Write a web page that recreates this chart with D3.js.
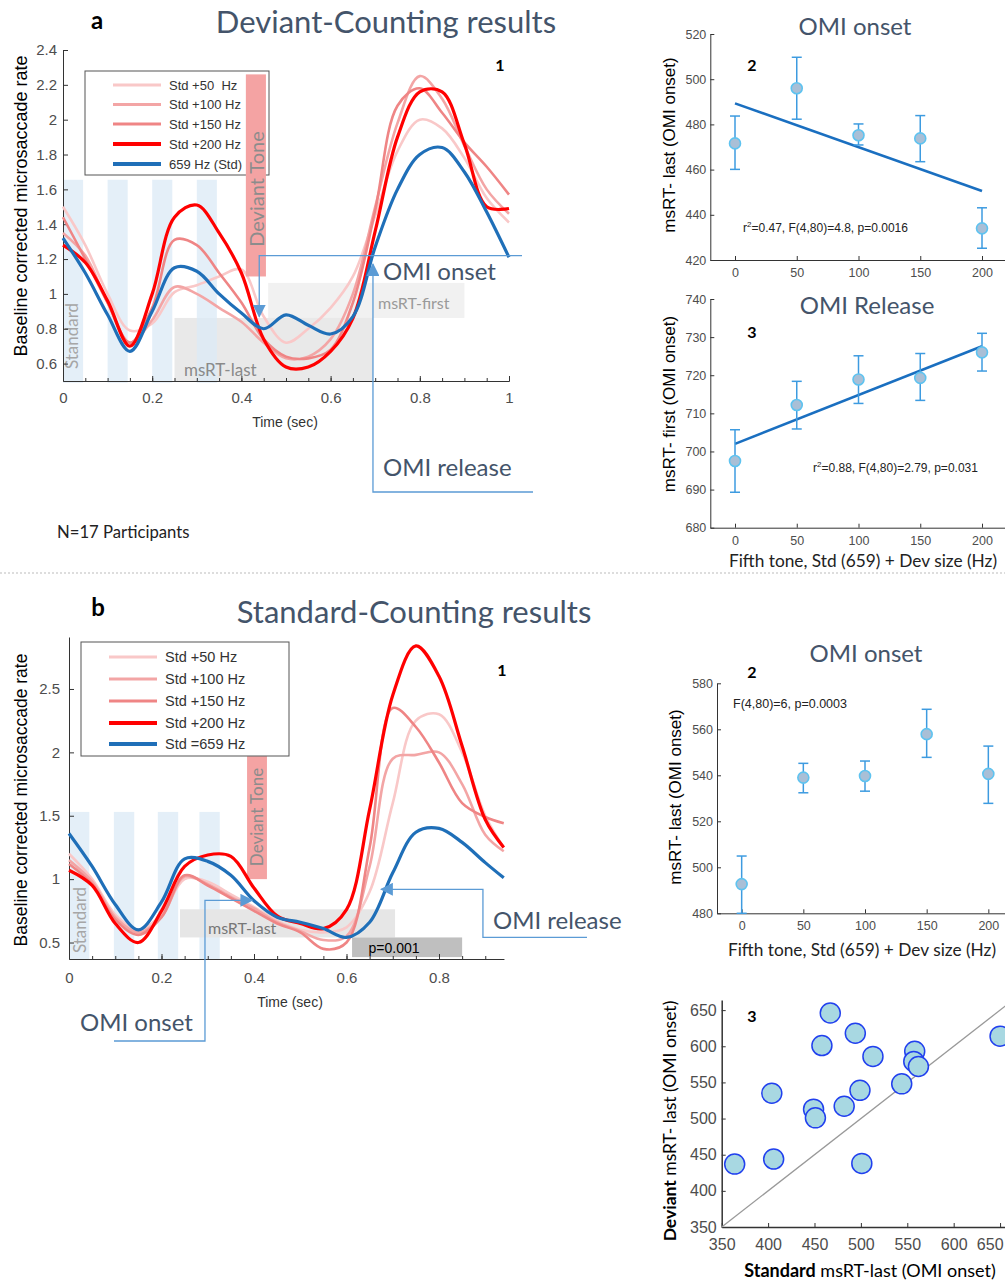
<!DOCTYPE html>
<html>
<head>
<meta charset="utf-8">
<script src="https://cdn.jsdelivr.net/npm/d3@7"></script>
<style>
body { margin: 0; background: #fff; }
text { white-space: pre; }
</style>
</head>
<body>
<script>
// ---- panel a1: deviant counting, microsaccade rate vs time
var timeA = [0, 0.05, 0.1, 0.15, 0.2, 0.25, 0.3, 0.35, 0.4, 0.45, 0.5, 0.55, 0.6, 0.65, 0.7, 0.75, 0.8, 0.85, 0.9, 0.95, 1];
var devA50  = [1.50, 1.28, 1.00, 0.79, 0.83, 1.01, 1.05, 1.10, 1.14, 0.87, 0.72, 0.80, 0.92, 1.10, 1.45, 1.82, 2.00, 1.95, 1.78, 1.55, 1.41];
var devA100 = [1.35, 1.22, 0.95, 0.72, 0.85, 1.04, 1.00, 0.92, 0.84, 0.72, 0.63, 0.64, 0.74, 1.00, 1.50, 1.98, 2.25, 2.12, 1.85, 1.60, 1.46];
var devA150 = [1.44, 1.20, 0.95, 0.72, 0.92, 1.31, 1.28, 1.12, 0.95, 0.74, 0.64, 0.63, 0.68, 0.95, 1.48, 2.08, 2.18, 2.04, 1.87, 1.73, 1.57];
var devA200 = [1.28, 1.18, 0.96, 0.70, 1.00, 1.44, 1.51, 1.35, 1.12, 0.74, 0.58, 0.58, 0.67, 0.86, 1.36, 1.90, 2.16, 2.16, 1.86, 1.50, 1.49];
var devAStd = [1.32, 1.12, 0.88, 0.67, 0.90, 1.15, 1.13, 1.00, 0.89, 0.80, 0.88, 0.82, 0.77, 0.87, 1.27, 1.60, 1.80, 1.84, 1.70, 1.47, 1.21];
var legendA = ["Std +50  Hz", "Std +100 Hz", "Std +150 Hz", "Std +200 Hz", "659 Hz (Std)"];

// ---- panel b1: standard counting
var timeB = [0, 0.05, 0.1, 0.15, 0.2, 0.25, 0.3, 0.35, 0.4, 0.45, 0.5, 0.55, 0.6, 0.65, 0.7, 0.75, 0.8, 0.85, 0.9, 0.94];
var stdB50  = [1.20, 1.00, 0.72, 0.60, 0.72, 1.00, 0.98, 0.88, 0.78, 0.67, 0.60, 0.58, 0.62, 0.90, 1.60, 2.25, 2.30, 2.00, 1.50, 1.25];
var stdB100 = [1.15, 0.98, 0.70, 0.58, 0.70, 1.02, 0.96, 0.86, 0.77, 0.66, 0.59, 0.52, 0.55, 1.10, 1.95, 1.98, 2.00, 1.75, 1.35, 1.22];
var stdB150 = [1.12, 0.96, 0.68, 0.56, 0.70, 1.03, 0.95, 0.85, 0.75, 0.65, 0.58, 0.45, 0.50, 1.25, 2.35, 2.20, 1.92, 1.60, 1.49, 1.44];
var stdB200 = [1.07, 0.95, 0.65, 0.50, 0.75, 1.10, 1.19, 1.18, 0.93, 0.71, 0.65, 0.61, 0.76, 1.55, 2.45, 2.84, 2.60, 2.05, 1.47, 1.25];
var stdBStd = [1.36, 1.10, 0.80, 0.60, 0.82, 1.16, 1.14, 1.03, 0.83, 0.70, 0.66, 0.61, 0.54, 0.66, 1.05, 1.37, 1.40, 1.29, 1.13, 1.01];
var legendB = ["Std +50 Hz", "Std +100 Hz", "Std +150 Hz", "Std +200 Hz", "Std =659 Hz"];

// tone onsets (sec) shown as shaded bars
var toneA = [0, 0.1, 0.2, 0.3];
var toneB = [0, 0.097, 0.192, 0.282];

// ---- error bar panels (deviant size in Hz)
var devSize = [0, 50, 100, 150, 200];
var fitX = [0, 200];
var onsetA   = [471.6, 496.0, 475.2, 473.8, 434.0];
var onsetALo = [460.1, 482.3, 470.9, 463.5, 425.2];
var onsetAHi = [483.7, 509.7, 480.2, 483.9, 443.1];
var fitOnsetA = [489.3, 450.5];
var releaseA   = [697.5, 712.2, 718.9, 719.3, 726.0];
var releaseALo = [689.3, 705.9, 712.6, 713.4, 721.1];
var releaseAHi = [705.7, 718.4, 725.1, 725.7, 731.0];
var fitReleaseA = [702.0, 727.6];
var onsetB   = [492.7, 539.0, 539.7, 557.9, 540.6];
var onsetBLo = [480.0, 532.4, 533.1, 547.8, 527.8];
var onsetBHi = [504.9, 545.2, 546.2, 568.7, 552.7];

// ---- scatter b3: per participant msRT-last (ms)
var stdLast = [364, 406, 404, 449, 451, 458, 467, 494, 482, 499, 501, 513, 544, 558, 557, 562, 650];
var devLast = [437, 444, 535, 513, 501, 601, 646, 618, 517, 539, 438, 586, 548, 593, 579, 572, 614];

var colors = ["#f9c8c8", "#f3a5a5", "#ef8585", "#ff0000", "#1f6fb8"];
var widths = [2.6, 2.6, 2.6, 3.2, 3.2];
var anno = "#5b9bd5";
var titleCol = "#44546a";
var cal = "Lato, 'Open Sans', sans-serif";
var arial = "'Liberation Sans', Arial, sans-serif";

var svg = d3.select("body").append("svg").attr("width", 1005).attr("height", 1282);

svg.append("defs").append("marker")
  .attr("id", "arr").attr("viewBox", "0 0 10 10").attr("refX", 9).attr("refY", 5)
  .attr("markerWidth", 13).attr("markerHeight", 13).attr("markerUnits", "userSpaceOnUse")
  .attr("orient", "auto")
  .append("path").attr("d", "M0,0L10,5L0,10Z").attr("fill", anno);

function text(x, y, s, size, font, opts) {
  opts = opts || {};
  var t = svg.append("text").attr("x", x).attr("y", y).text(s)
    .attr("font-size", size).attr("font-family", font)
    .attr("fill", opts.fill || "#000")
    .attr("text-anchor", opts.anchor || "start")
    .attr("font-weight", opts.weight || "normal");
  if (opts.rotate) t.attr("transform", "rotate(-90," + x + "," + y + ")");
  return t;
}

function styleAxis(g, size) {
  g.attr("font-family", arial).attr("font-size", size);
  g.select(".domain").attr("stroke", "#333").attr("stroke-width", 1);
  g.selectAll(".tick line").attr("stroke", "#333");
  g.selectAll(".tick text").attr("fill", "#4d4d4d");
}

function timeAxes(x, y, xMajor, xMinor, yMajor, fs, padX, padY) {
  var y0 = y.range()[0], x0 = x.range()[0];
  var gm = svg.append("g").attr("transform", "translate(0," + y0 + ")")
    .call(d3.axisBottom(x).tickValues(xMinor).tickSizeInner(-3).tickSizeOuter(0).tickFormat(""));
  styleAxis(gm, fs);
  var gx = svg.append("g").attr("transform", "translate(0," + y0 + ")")
    .call(d3.axisBottom(x).tickValues(xMajor).tickSizeInner(-5).tickSizeOuter(0)
      .tickPadding(padX).tickFormat(d3.format("~g")));
  styleAxis(gx, fs);
  var gy = svg.append("g").attr("transform", "translate(" + x0 + ",0)")
    .call(d3.axisLeft(y).tickValues(yMajor).tickSizeInner(-5).tickSizeOuter(0)
      .tickPadding(padY).tickFormat(d3.format("~g")));
  styleAxis(gy, fs);
}

function curves(x, y, times, series) {
  var line = d3.line()
    .x(function(d, i) { return x(times[i]); })
    .y(function(d) { return y(d); })
    .curve(d3.curveCatmullRom.alpha(0.5));
  svg.append("g").selectAll("path").data(series).enter().append("path")
    .attr("d", line)
    .attr("fill", "none")
    .attr("stroke", function(d, i) { return colors[i]; })
    .attr("stroke-width", function(d, i) { return widths[i]; });
}

function legend(x0, y0, w, h, rows, labels, size) {
  svg.append("rect").attr("x", x0).attr("y", y0).attr("width", w).attr("height", h)
    .attr("fill", "#fff").attr("stroke", "#555").attr("stroke-width", 1);
  labels.forEach(function(lab, i) {
    svg.append("line").attr("x1", x0 + 28).attr("x2", x0 + 28 + 48)
      .attr("y1", rows[i]).attr("y2", rows[i])
      .attr("stroke", colors[i]).attr("stroke-width", widths[i] + 0.6);
    text(x0 + 84, rows[i] + size * 0.36, lab, size, arial, {fill: "#333"});
  });
}

// =================== a1 ===================
var xA = d3.scaleLinear().domain([0, 1]).range([63, 509]);
var yA = d3.scaleLinear().domain([0.5, 2.4]).range([381, 50]);

svg.append("rect").attr("x", xA(0.46)).attr("width", xA(0.9) - xA(0.46))
  .attr("y", yA(1.063)).attr("height", yA(0.862) - yA(1.063)).attr("fill", "#f1f1f1");
svg.append("rect").attr("x", xA(0.25)).attr("width", xA(0.695) - xA(0.25))
  .attr("y", yA(0.862)).attr("height", yA(0.5) - yA(0.862)).attr("fill", "#e9e9e9");
svg.append("g").selectAll("rect").data(toneA).enter().append("rect")
  .attr("x", function(d) { return xA(d); })
  .attr("width", xA(0.045) - xA(0))
  .attr("y", yA(1.655)).attr("height", yA(0.49) - yA(1.655))
  .attr("fill", "#dbe9f6").attr("opacity", 0.75);

text(78, 336, "Standard", 17, cal, {fill: "#a6a6a6", anchor: "middle", rotate: true});
text(184, 376, "msRT-last", 17, cal, {fill: "#8a8a8a"});
text(378, 309, "msRT-first", 16, cal, {fill: "#9a9a9a"});

timeAxes(xA, yA, [0, 0.2, 0.4, 0.6, 0.8, 1], d3.range(0, 1.0001, 0.05),
  [0.6, 0.8, 1, 1.2, 1.4, 1.6, 1.8, 2, 2.2, 2.4], 15, 11, 6);

curves(xA, yA, timeA, [devA50, devA100, devA150, devA200, devAStd]);

legend(85, 71, 184, 104, [85, 104.5, 124, 144, 164], legendA, 13);

svg.append("rect").attr("x", xA(0.41)).attr("width", xA(0.455) - xA(0.41))
  .attr("y", yA(2.26)).attr("height", yA(1.1) - yA(2.26)).attr("fill", "#f4a3a3");
text(264, 189, "Deviant Tone", 20, cal, {fill: "#8c8c8c", anchor: "middle", rotate: true});

// OMI onset / release arrows
svg.append("path")
  .attr("d", "M" + 522 + "," + yA(1.22) + "H" + xA(0.44) + "V" + yA(0.87))
  .attr("fill", "none").attr("stroke", anno).attr("stroke-width", 1.3).attr("marker-end", "url(#arr)");
svg.append("path")
  .attr("d", "M" + 533 + "," + 492 + "H" + xA(0.695) + "V" + yA(1.17))
  .attr("fill", "none").attr("stroke", anno).attr("stroke-width", 1.3).attr("marker-end", "url(#arr)");
text(383, 280, "OMI onset", 24, cal, {fill: titleCol});
text(383, 476, "OMI release", 24, cal, {fill: titleCol});

text(285, 427, "Time (sec)", 14, arial, {fill: "#333", anchor: "middle"});
text(27, 206, "Baseline corrected microsaccade rate", 18, arial, {anchor: "middle", rotate: true});
text(500, 71, "1", 16, cal, {weight: "bold", anchor: "middle"});
text(97, 29, "a", 24, cal, {weight: "bold", anchor: "middle"});
text(386, 33, "Deviant-Counting results", 31, cal, {fill: titleCol, anchor: "middle"});
text(57, 538, "N=17 Participants", 16.7, cal, {fill: "#222"});

svg.append("line").attr("x1", 0).attr("x2", 1005).attr("y1", 573).attr("y2", 573)
  .attr("stroke", "#bbb").attr("stroke-dasharray", "2,2");

// =================== b1 ===================
var xB = d3.scaleLinear().domain([0, 0.94]).range([69, 503.75]);
var yB = d3.scaleLinear().domain([0.37, 2.91]).range([959, 637]);

svg.append("g").selectAll("rect").data(toneB).enter().append("rect")
  .attr("x", function(d) { return xB(d); })
  .attr("width", xB(0.044) - xB(0))
  .attr("y", yB(1.53)).attr("height", yB(0.37) - yB(1.53))
  .attr("fill", "#dbe9f6").attr("opacity", 0.75);
svg.append("rect").attr("x", xB(0.385)).attr("width", xB(0.428) - xB(0.385))
  .attr("y", yB(1.97)).attr("height", yB(1.0) - yB(1.97)).attr("fill", "#f4a3a3");
text(263, 817, "Deviant Tone", 17, cal, {fill: "#8c8c8c", anchor: "middle", rotate: true});
svg.append("rect").attr("x", xB(0.24)).attr("width", xB(0.705) - xB(0.24))
  .attr("y", yB(0.762)).attr("height", yB(0.54) - yB(0.762)).attr("fill", "#e6e6e6");
svg.append("rect").attr("x", xB(0.612)).attr("width", xB(0.85) - xB(0.612))
  .attr("y", yB(0.54)).attr("height", yB(0.385) - yB(0.54)).attr("fill", "#bfbfbf");
text(86, 920, "Standard", 17, cal, {fill: "#a6a6a6", anchor: "middle", rotate: true});
text(208, 934, "msRT-last", 16, cal, {fill: "#777"});
text(394, 953, "p=0.001", 14, arial, {anchor: "middle"});

timeAxes(xB, yB, [0, 0.2, 0.4, 0.6, 0.8], d3.range(0, 0.9401, 0.05),
  [0.5, 1, 1.5, 2, 2.5], 15, 13, 9);

curves(xB, yB, timeB, [stdB50, stdB100, stdB150, stdB200, stdBStd]);

legend(81, 642, 208, 114, [657, 679, 701, 723, 744], legendB, 14.5);

svg.append("path")
  .attr("d", "M114,1041H" + xB(0.294) + "V" + yB(0.833) + "H" + xB(0.396))
  .attr("fill", "none").attr("stroke", anno).attr("stroke-width", 1.3).attr("marker-end", "url(#arr)");
svg.append("path")
  .attr("d", "M587," + yB(0.54) + "H" + xB(0.895) + "V" + yB(0.92) + "H" + xB(0.675))
  .attr("fill", "none").attr("stroke", anno).attr("stroke-width", 1.3).attr("marker-end", "url(#arr)");
text(80, 1031, "OMI onset", 24, cal, {fill: titleCol});
text(493, 929, "OMI release", 24, cal, {fill: titleCol});

text(290, 1007, "Time (sec)", 14, arial, {fill: "#333", anchor: "middle"});
text(27, 800, "Baseline corrected microsaccade rate", 17.5, arial, {anchor: "middle", rotate: true});
text(502, 676, "1", 16, cal, {weight: "bold", anchor: "middle"});
text(98, 616, "b", 24, cal, {weight: "bold", anchor: "middle"});
text(414, 623, "Standard-Counting results", 31, cal, {fill: titleCol, anchor: "middle"});

// =================== error bar panels ===================
function errPanel(o) {
  var x = d3.scaleLinear().domain([-20, 220]).range(o.xRange);
  var y = d3.scaleLinear().domain(o.yDomain).range(o.yRange);
  var gx = svg.append("g").attr("transform", "translate(0," + o.yRange[0] + ")")
    .call(d3.axisBottom(x).tickValues(devSize).tickSizeInner(-4).tickSizeOuter(0).tickPadding(8));
  styleAxis(gx, 12.5);
  var gy = svg.append("g").attr("transform", "translate(" + o.xRange[0] + ",0)")
    .call(d3.axisLeft(y).ticks(6).tickSizeInner(-4).tickSizeOuter(0).tickPadding(4));
  styleAxis(gy, 12.5);

  if (o.fit) {
    svg.append("line").attr("x1", x(fitX[0])).attr("x2", x(fitX[1]))
      .attr("y1", y(o.fit[0])).attr("y2", y(o.fit[1]))
      .attr("stroke", "#1a6fc0").attr("stroke-width", 2.6);
  }
  var g = svg.append("g").selectAll("g").data(o.mean).enter().append("g");
  g.append("line")
    .attr("x1", function(d, i) { return x(devSize[i]); })
    .attr("x2", function(d, i) { return x(devSize[i]); })
    .attr("y1", function(d, i) { return y(o.lo[i]); })
    .attr("y2", function(d, i) { return y(o.hi[i]); })
    .attr("stroke", "#3d9be0").attr("stroke-width", 1.5);
  [o.lo, o.hi].forEach(function(arr) {
    g.append("line")
      .attr("x1", function(d, i) { return x(devSize[i]) - 5; })
      .attr("x2", function(d, i) { return x(devSize[i]) + 5; })
      .attr("y1", function(d, i) { return y(arr[i]); })
      .attr("y2", function(d, i) { return y(arr[i]); })
      .attr("stroke", "#3d9be0").attr("stroke-width", 1.5);
  });
  g.append("circle")
    .attr("cx", function(d, i) { return x(devSize[i]); })
    .attr("cy", function(d) { return y(d); })
    .attr("r", 5.5)
    .attr("fill", "#a9bfd6").attr("stroke", "#5ec3f0").attr("stroke-width", 1.6);
}

errPanel({xRange: [710.3, 1006.7], yDomain: [420, 520], yRange: [260, 34],
  mean: onsetA, lo: onsetALo, hi: onsetAHi, fit: fitOnsetA});
errPanel({xRange: [710.3, 1006.7], yDomain: [680, 740], yRange: [527.7, 299],
  mean: releaseA, lo: releaseALo, hi: releaseAHi, fit: fitReleaseA});
errPanel({xRange: [717, 1013], yDomain: [480, 580], yRange: [913.3, 683.3],
  mean: onsetB, lo: onsetBLo, hi: onsetBHi});

function stat(x, y, parts) {
  var t = svg.append("text").attr("x", x).attr("y", y).attr("font-family", arial)
    .attr("font-size", 12).attr("fill", "#222");
  t.append("tspan").text("r");
  t.append("tspan").text("2").attr("font-size", 8).attr("dy", -5);
  t.append("tspan").text(parts).attr("dy", 5);
}
stat(743, 232, "=0.47, F(4,80)=4.8, p=0.0016");
stat(813, 472, "=0.88, F(4,80)=2.79, p=0.031");
text(733, 708, "F(4,80)=6, p=0.0003", 12.5, arial, {fill: "#222"});

text(855, 35, "OMI onset", 24, cal, {fill: titleCol, anchor: "middle"});
text(867, 314, "OMI Release", 24, cal, {fill: titleCol, anchor: "middle"});
text(866, 662, "OMI onset", 24, cal, {fill: titleCol, anchor: "middle"});
text(752, 71, "2", 16, cal, {weight: "bold", anchor: "middle"});
text(752, 338, "3", 16, cal, {weight: "bold", anchor: "middle"});
text(752, 678, "2", 16, cal, {weight: "bold", anchor: "middle"});

text(675, 145, "msRT- last (OMI onset)", 17, arial, {anchor: "middle", rotate: true});
text(675, 404, "msRT- first (OMI onset)", 17, arial, {anchor: "middle", rotate: true});
text(681, 797, "msRT- last (OMI onset)", 17, arial, {anchor: "middle", rotate: true});
text(863, 567, "Fifth tone, Std (659) + Dev size (Hz)", 17.3, cal, {anchor: "middle", fill: "#222"});
text(862, 956, "Fifth tone, Std (659) + Dev size (Hz)", 17.3, cal, {anchor: "middle", fill: "#222"});

// =================== b3 scatter ===================
var xS = d3.scaleLinear().domain([350, 658]).range([721.7, 1007.5]);
var yS = d3.scaleLinear().domain([350, 664]).range([1227, 1000]);
var sx = svg.append("g").attr("transform", "translate(0,1227)")
  .call(d3.axisBottom(xS).tickValues(d3.range(350, 651, 50)).tickSizeInner(-4).tickSizeOuter(0).tickPadding(12));
styleAxis(sx, 16);
// last label sits at the page edge, keep it inside
sx.selectAll(".tick text").filter(function(d) { return d === 650; }).attr("text-anchor", "end").attr("dx", 3);
var sy = svg.append("g").attr("transform", "translate(721.7,0)")
  .call(d3.axisLeft(yS).tickValues(d3.range(350, 651, 50)).tickSizeInner(-4).tickSizeOuter(0).tickPadding(5));
styleAxis(sy, 16);
sx.select(".domain").attr("stroke-width", 1.5);
sy.select(".domain").attr("stroke-width", 1.5);

svg.append("line").attr("x1", xS(350)).attr("y1", yS(350)).attr("x2", xS(658)).attr("y2", yS(658))
  .attr("stroke", "#999").attr("stroke-width", 1.3);
svg.append("g").selectAll("circle").data(stdLast).enter().append("circle")
  .attr("cx", function(d) { return xS(d); })
  .attr("cy", function(d, i) { return yS(devLast[i]); })
  .attr("r", 10)
  .attr("fill", "#a8d8e2").attr("stroke", "#2140ee").attr("stroke-width", 1.5);

text(752, 1022, "3", 16, cal, {weight: "bold", anchor: "middle"});
var yl = text(676, 1121, "", 17.5, cal, {anchor: "middle", rotate: true});
yl.append("tspan").text("Deviant").attr("font-weight", "bold");
yl.append("tspan").text(" msRT- last (OMI onset)");
var xl = text(870, 1277, "", 18, cal, {anchor: "middle"});
xl.append("tspan").text("Standard").attr("font-weight", "bold");
xl.append("tspan").text(" msRT-last (OMI onset)");
</script>
</body>
</html>
